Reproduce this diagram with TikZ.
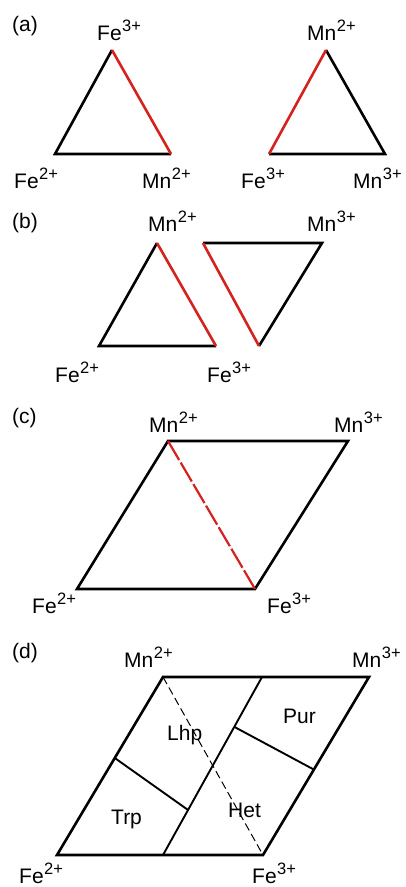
\documentclass[tikz,border=0pt]{standalone}
\usepackage{fontspec}
\setmainfont{Liberation Sans}
\usepackage{xcolor}
\usepackage{tikz}
\usetikzlibrary{calc}
\definecolor{rojo}{RGB}{212,34,30}
\newcommand{\carga}[2]{#1\kern0.5pt\raisebox{9pt}{\fontsize{16.5}{16}\selectfont #2}}
\tikzset{
  lado/.style={draw=black,line width=2.6pt},
  ladorojo/.style={draw=rojo,line width=2.6pt},
  interior/.style={draw=black,line width=1.9pt},
  etiq/.style={anchor=base west,inner sep=0pt,font=\fontsize{21}{25}\selectfont}
}
\begin{document}
\begin{tikzpicture}[x=1pt,y=-1pt]
\useasboundingbox (0,0) rectangle (406,887);
% (a)
\node[etiq] (la) at (12,31) {(a)};
\coordinate (afeiii) at (112,50); \coordinate (afeii) at (55,154); \coordinate (amnii) at (171,154);
\coordinate (bmnii) at (326,50); \coordinate (bfeiii) at (269,154); \coordinate (bmniii) at (385,154);
\draw[lado] (amnii) -- (afeii) -- (afeiii);
\draw[ladorojo] (afeiii) -- (amnii);
\draw[lado] (bfeiii) -- (bmniii) -- (bmnii);
\draw[ladorojo] (bmnii) -- (bfeiii);
\node[etiq] (ta1) at (97,40) {\carga{Fe}{3+}};
\node[etiq] (ta2) at (14,188) {\carga{Fe}{2+}};
\node[etiq] (ta3) at (142,188) {\carga{Mn}{2+}};
\node[etiq] (ta4) at (307,40) {\carga{Mn}{2+}};
\node[etiq] (ta5) at (241,188) {\carga{Fe}{3+}};
\node[etiq] (ta6) at (353,188) {\carga{Mn}{3+}};
% (b)
\node[etiq] (lb) at (12,228) {(b)};
\coordinate (cmnii) at (157,243); \coordinate (cfeii) at (99,346); \coordinate (cfeiii) at (216,346);
\coordinate (dmnii) at (203,243); \coordinate (dmniii) at (322,243); \coordinate (dfeiii) at (259,346);
\draw[lado] (cfeiii) -- (cfeii) -- (cmnii);
\draw[ladorojo] (cmnii) -- (cfeiii);
\draw[lado] (dmnii) -- (dmniii) -- (dfeiii);
\draw[ladorojo] (dfeiii) -- (dmnii);
\node[etiq] (tb1) at (148,231) {\carga{Mn}{2+}};
\node[etiq] (tb2) at (307,231) {\carga{Mn}{3+}};
\node[etiq] (tb3) at (55,382) {\carga{Fe}{2+}};
\node[etiq] (tb4) at (207,382) {\carga{Fe}{3+}};
% (c)
\node[etiq] (lc) at (12,423) {(c)};
\coordinate (emnii) at (168,441); \coordinate (emniii) at (348,441);
\coordinate (efeii) at (77,589); \coordinate (efeiii) at (255,589);
\draw[lado] (emnii) -- (emniii) -- (efeiii) -- (efeii) -- cycle;
\draw[draw=rojo,line width=2.2pt,dash pattern=on 22pt off 3pt] (emnii) -- (efeiii);
\node[etiq] (tc1) at (149,432) {\carga{Mn}{2+}};
\node[etiq] (tc2) at (334,432) {\carga{Mn}{3+}};
\node[etiq] (tc3) at (32,613) {\carga{Fe}{2+}};
\node[etiq] (tc4) at (267,613) {\carga{Fe}{3+}};
% (d)
\node[etiq] (ld) at (12,658) {(d)};
\coordinate (fmnii) at (163,677); \coordinate (fmniii) at (369,677);
\coordinate (ffeii) at (57,855); \coordinate (ffeiii) at (263,855);
\coordinate (mt) at (262,677); \coordinate (mb) at (163,855);
\coordinate (l1) at ($(ffeii)!0.545!(fmnii)$); \coordinate (l2) at ($(mb)!0.253!(mt)$);
\coordinate (r1) at ($(mb)!0.72!(mt)$); \coordinate (r2) at ($(ffeiii)!0.48!(fmniii)$);
\draw[black,line width=1pt,dash pattern=on 8pt off 4pt] (fmnii) -- (ffeiii);
\draw[interior] (mt) -- (mb);
\draw[interior] (l1) -- (l2);
\draw[interior] (r1) -- (r2);
\draw[lado] (fmnii) -- (fmniii) -- (ffeiii) -- (ffeii) -- cycle;
\node[etiq] (td1) at (124,667) {\carga{Mn}{2+}};
\node[etiq] (td2) at (352,667) {\carga{Mn}{3+}};
\node[etiq] (td3) at (19,883) {\carga{Fe}{2+}};
\node[etiq] (td4) at (252,883) {\carga{Fe}{3+}};
\node[etiq] (lhp) at (167,740) {Lhp};
\node[etiq] (pur) at (283,723) {Pur};
\node[etiq] (trp) at (111,824) {Trp};
\node[etiq] (het) at (228,817) {Het};
\end{tikzpicture}
\end{document}
